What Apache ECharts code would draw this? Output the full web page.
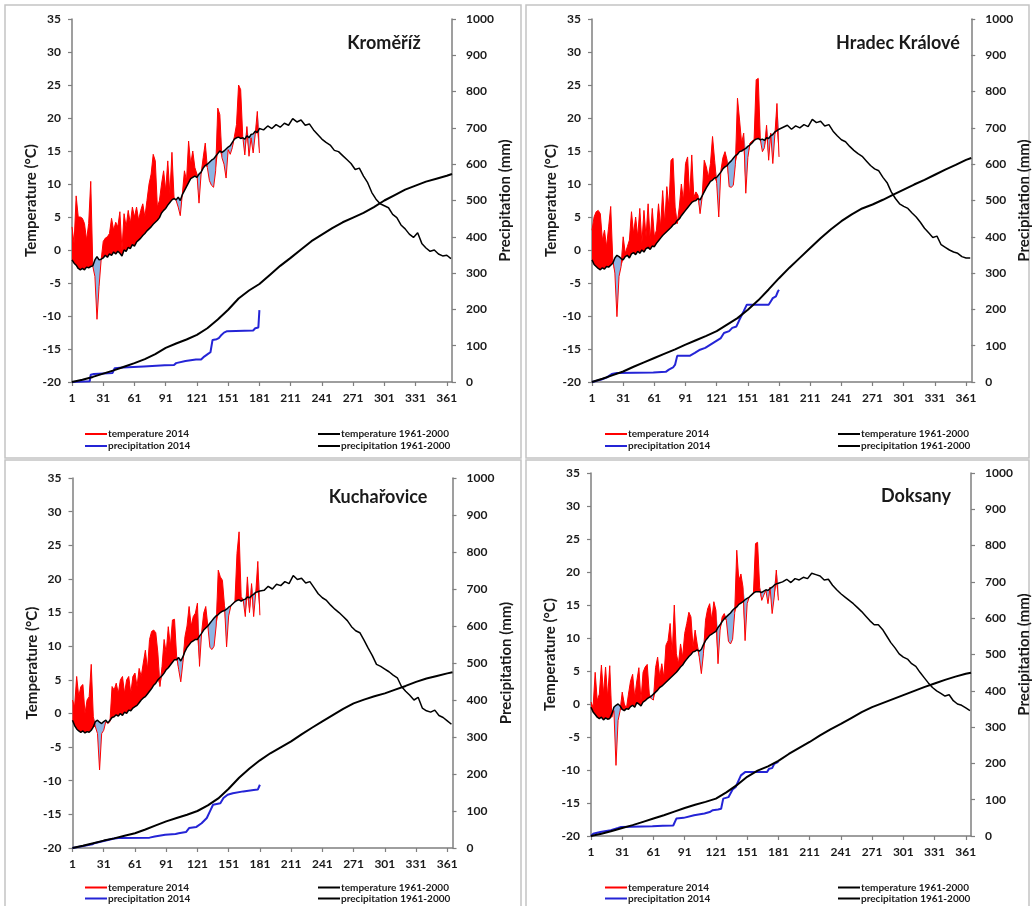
<!DOCTYPE html>
<html>
<head>
<meta charset="utf-8">
<script src="https://cdn.jsdelivr.net/npm/echarts@6.0.0/dist/echarts.min.js"></script>
<style>
html,body{margin:0;padding:0;background:#ffffff;}
#chart{width:1033px;height:906px;}
</style>
</head>
<body>
<div id="chart"></div>
<script>
// ---------------- DATA ----------------
const STATION_NAMES = ["Kroměříž", "Hradec Králové", "Kuchařovice", "Doksany"];
const X_TICKS = [1, 31, 61, 91, 121, 151, 181, 211, 241, 271, 301, 331, 361];

// days of the 2014 daily temperature samples (day of year)
const DAYS_2014 = [1,3,5,7,9,11,13,15,17,19,
  21,23,25,27,29,31,33,35,37,39,
  41,43,45,47,49,51,53,55,57,59,
  61,63,65,67,69,71,73,75,77,79,
  81,83,85,87,89,91,93,95,97,99,
  101,103,105,107,109,111,113,115,117,119,
  121,123,125,127,129,131,133,135,137,139,
  141,143,145,147,149,151,153,155,157,159,
  161,163,165,167,169,171,173,175,177,179,
  181];
// additional days for the 1961-2000 temperature curve (second half of the year)
const DAYS_NORMAL_TAIL = [185,189,193,197,201,205,209,213,217,221,
  225,229,233,237,241,245,249,253,257,261,
  265,269,273,277,281,285,289,293,297,301,
  305,309,313,317,321,325,329,333,337,341,
  345,349,353,357,361,365];
// days of the cumulative 1961-2000 precipitation samples
const DAYS_PRECIP_NORMAL = [1,11,21,31,41,51,61,71,81,91,101,111,121,131,141,151,161,171,181,
  191,201,211,221,231,241,251,261,271,281,291,301,311,321,331,341,351,361,366];

// ---- Kroměříž ----
const KRO_TEMP_2014 = [3.5,1.0,8.2,5.0,5.0,4.8,4.0,1.5,4.0,10.4,
  -2.5,-4.0,-10.5,-5.5,-1.5,1.3,1.8,2.0,2.5,4.8,
  3.0,4.2,3.5,5.8,0.0,5.5,3.5,6.0,4.0,6.5,
  5.0,6.5,4.5,6.0,7.0,5.0,7.5,10.0,11.5,14.5,
  13.5,6.5,7.5,10.0,12.0,9.0,13.5,8.5,14.8,8.0,
  7.5,6.5,5.2,8.5,12.0,10.5,16.5,13.0,15.0,12.5,
  11.5,7.1,11.5,14.0,16.2,12.5,10.5,9.8,9.5,12.0,
  21.5,20.5,14.0,13.0,10.9,15.2,14.5,15.5,17.2,19.0,
  25.0,24.3,17.2,14.4,18.7,14.2,17.0,14.7,17.5,21.0,
  14.7];
const KRO_TEMP_NORMAL = [-1.5,-2.0,-2.3,-2.8,-3.0,-2.8,-3.0,-2.6,-2.7,-2.5,
  -2.4,-1.5,-1.0,-1.5,-1.4,-1.2,-0.8,-1.1,-0.6,-0.8,
  -0.3,-0.6,-0.2,-0.5,-0.9,0.0,-0.2,0.4,0.2,0.8,
  0.6,1.2,1.5,1.8,2.2,2.5,2.9,3.2,3.5,3.9,
  4.2,4.5,4.9,5.6,6.0,6.3,6.8,7.2,7.6,7.8,
  7.6,8.0,7.5,8.4,9.0,9.6,10.2,10.8,11.0,11.2,
  11.0,11.5,11.8,12.4,12.8,13.0,13.3,13.6,13.8,14.2,
  14.6,15.0,14.8,15.0,15.3,15.6,15.8,16.3,16.8,17.0,
  17.1,16.9,17.0,16.8,17.3,17.0,17.5,17.6,18.0,17.8,
  18.4,
  18.2,18.8,18.4,19.0,18.6,19.2,18.9,19.9,19.4,19.7,
  18.9,19.1,18.2,17.5,16.8,16.3,15.9,15.1,14.9,14.3,
  13.7,13.1,12.2,12.4,11.2,10.2,8.7,7.7,7.0,6.7,
  6.4,5.4,4.9,3.8,3.2,2.4,1.9,2.6,1.0,0.3,
  -0.2,0.0,-0.6,-0.9,-0.8,-1.3];
const KRO_PRECIP_NORMAL = [0,6,14,23,32,42,52,63,77,94,106,117,130,148,172,199,230,252,270,
  295,320,342,365,388,406,424,440,453,466,482,500,515,530,541,552,560,568,573];
const KRO_PRECIP_2014 = [[1,0],[18,2],[19,20],[22,22],[40,25],[42,38],[50,40],[70,43],[90,46],[99,47],
  [101,52],[110,58],[115,60],[120,62],[125,62],[128,70],[132,78],[134,82],[136,116],[140,118],
  [142,121],[144,128],[147,136],[150,140],[175,142],[177,148],[180,150],[181,198]];

// ---- Hradec Králové ----
const HK_TEMP_2014 = [3.0,5.0,5.8,6.0,5.5,1.5,3.0,0.5,3.5,6.6,
  -1.5,-3.5,-10.1,-4.0,-2.5,2.0,-0.5,0.5,1.5,5.8,
  2.5,5.0,2.0,6.3,1.0,6.0,2.0,7.0,1.5,6.3,
  2.0,3.0,7.0,3.5,9.0,4.0,9.6,6.5,13.6,13.9,
  6.5,4.0,6.5,10.0,7.5,13.1,14.1,8.0,14.4,8.0,
  8.8,8.3,5.5,8.0,13.6,12.6,11.0,13.1,17.2,13.6,
  10.1,5.0,12.0,14.0,14.9,13.6,9.6,9.5,9.8,13.0,
  23.0,19.7,16.2,17.7,8.6,14.0,16.2,16.5,16.7,25.8,
  26.0,16.7,14.9,15.5,18.9,13.6,17.7,13.1,17.5,22.2,
  14.1];
const HK_TEMP_NORMAL = [-1.5,-2.2,-2.5,-2.8,-3.0,-2.7,-2.9,-2.5,-2.6,-2.3,
  -2.0,-1.2,-0.8,-1.0,-1.3,-1.5,-1.0,-0.8,-1.2,-0.6,
  -0.4,-0.7,-0.2,-0.5,0.0,-0.3,0.2,0.4,0.1,0.6,
  0.5,1.0,1.4,1.8,2.2,2.5,2.8,3.1,3.4,3.8,
  4.0,4.5,4.7,5.2,5.6,6.0,6.4,6.8,7.2,7.4,
  7.5,7.8,7.6,8.2,8.8,9.4,9.9,10.4,10.6,10.9,
  11.0,11.4,11.8,12.3,12.6,12.8,13.2,13.5,13.9,14.3,
  14.5,14.9,15.0,15.2,15.4,15.7,15.9,16.2,16.6,16.8,
  16.9,16.7,16.8,16.6,17.0,16.9,17.3,17.5,17.9,18.1,
  18.3,
  18.6,18.9,18.3,18.8,18.5,19.0,18.7,19.8,19.3,19.5,
  18.8,19.0,18.0,17.3,16.7,16.4,15.7,15.1,14.6,14.2,
  13.5,12.8,12.3,12.0,11.0,10.2,8.8,7.8,7.0,6.6,
  6.3,5.6,5.0,4.2,3.3,2.6,1.9,2.1,0.8,0.4,
  0.0,-0.3,-0.5,-1.0,-1.2,-1.2];
const HK_PRECIP_NORMAL = [0,9,19,29,42,54,66,78,90,103,115,127,140,158,176,199,225,255,286,
  315,342,369,396,421,443,462,478,489,502,516,530,544,557,571,585,598,612,617];
const HK_PRECIP_2014 = [[1,0],[5,3],[10,7],[15,12],[20,22],[25,25],[60,26],[72,28],[75,34],[79,40],
  [81,48],[83,72],[95,72],[100,80],[105,89],[110,94],[115,103],[120,112],[125,121],[128,135],
  [133,140],[136,149],[140,153],[143,172],[147,195],[150,213],[171,213],[173,222],[175,231],[178,236],
  [180,250],[181,254]];

// ---- Kuchařovice ----
const KU_TEMP_2014 = [2.0,1.0,5.5,2.5,4.0,4.3,0.0,2.0,2.5,7.3,
  -0.5,-2.0,-3.0,-8.4,-3.0,-2.5,-1.2,-1.5,-1.2,4.0,
  3.5,4.5,3.0,5.0,5.5,3.0,5.0,5.5,3.0,5.5,
  6.0,4.0,6.7,5.5,7.5,9.4,6.5,11.0,12.2,12.4,
  12.0,9.0,4.0,7.0,11.0,9.0,12.9,10.0,13.9,14.0,
  8.5,6.5,4.7,7.5,11.4,13.0,15.9,13.0,14.4,14.9,
  16.4,7.0,12.0,14.9,15.9,13.0,9.8,9.5,10.0,13.0,
  21.3,20.3,19.8,16.0,9.9,14.5,15.9,16.3,16.6,23.8,
  27.0,17.4,16.8,14.4,20.3,15.0,19.3,14.4,17.9,22.6,
  14.6];
const KU_TEMP_NORMAL = [-1.0,-1.8,-2.3,-2.6,-2.8,-2.6,-2.9,-2.7,-2.8,-2.5,
  -2.0,-1.2,-1.0,-1.3,-1.5,-1.2,-1.0,-1.4,-1.0,-0.6,
  -0.5,-0.2,-0.4,0.0,-0.3,0.2,0.0,0.5,0.4,0.8,
  1.0,1.2,1.6,2.0,2.3,2.5,2.9,3.3,3.7,4.2,
  4.5,5.0,5.3,5.6,6.0,6.5,6.8,7.2,7.6,8.0,
  8.0,8.3,7.8,8.4,9.2,9.8,10.2,10.6,10.8,11.0,
  11.0,11.5,11.9,12.4,12.7,13.0,13.4,13.8,14.2,14.5,
  14.7,15.0,15.2,15.3,15.5,15.8,16.0,16.3,16.6,16.8,
  16.9,16.7,16.9,17.0,17.3,17.2,17.5,17.7,18.0,18.1,
  18.2,
  18.3,18.9,18.5,19.2,19.0,19.6,19.3,20.5,19.9,20.1,
  19.4,19.6,18.7,17.8,17.2,16.8,16.1,15.5,15.0,14.4,
  13.8,12.9,12.3,12.0,10.9,9.7,8.6,7.3,7.0,6.6,
  6.2,5.7,5.3,4.0,3.3,2.7,2.0,2.4,0.8,0.4,
  0.2,0.5,-0.3,-0.6,-1.1,-1.6];
const KU_PRECIP_NORMAL = [0,6,13,20,26,33,40,50,61,72,81,90,100,115,134,160,190,215,237,
  256,272,288,307,325,342,359,376,391,401,410,418,428,438,449,458,465,472,475];
const KU_PRECIP_2014 = [[1,0],[10,5],[20,10],[22,13],[30,18],[40,25],[45,27],[75,28],[80,31],[90,36],
  [100,38],[103,40],[110,43],[113,54],[120,57],[125,67],[130,81],[133,99],[136,117],[143,121],
  [146,135],[150,144],[155,148],[165,153],[175,157],[179,158],[181,171]];

// ---- Doksany ----
const DO_TEMP_2014 = [0.3,-0.5,4.8,0.5,1.5,5.9,1.5,5.6,1.0,5.8,
  -2.0,-1.0,-9.3,-2.5,-1.0,1.8,0.0,-0.7,1.5,3.5,
  4.5,1.0,3.5,5.5,0.5,4.8,5.6,6.0,1.5,0.8,
  0.6,5.5,7.1,4.1,6.1,4.0,8.9,9.6,12.2,7.6,
  15.0,7.6,6.1,9.1,7.1,10.7,12.2,13.9,13.2,8.6,
  11.2,9.1,7.1,4.6,7.6,12.7,14.4,15.2,12.7,15.5,
  14.2,6.1,11.2,13.2,13.7,12.7,9.5,9.1,9.8,13.7,
  23.3,18.7,19.7,17.7,9.6,15.2,16.2,16.5,16.7,24.3,
  24.5,17.7,15.7,16.5,17.2,15.2,17.7,13.7,16.2,20.3,
  15.7];
const DO_TEMP_NORMAL = [-0.5,-1.2,-1.6,-2.0,-2.2,-2.0,-2.4,-2.1,-2.3,-2.2,
  -1.5,-0.5,-0.2,0.0,-0.3,-0.8,-1.0,-0.7,-0.8,-0.4,
  -0.2,-0.5,0.2,0.0,-0.3,0.3,0.5,0.8,1.0,1.2,
  1.5,1.8,2.1,2.5,2.7,3.0,3.3,3.6,3.9,4.2,
  4.5,4.8,5.2,5.6,5.9,6.4,6.8,7.2,7.5,7.9,
  8.0,8.2,8.0,8.3,9.0,9.6,10.0,10.4,10.6,10.8,
  11.0,11.6,12.0,12.5,12.9,13.2,13.5,13.8,14.2,14.5,
  14.7,15.1,15.3,15.5,15.8,16.0,16.2,16.5,16.8,17.0,
  17.0,17.0,16.9,17.1,17.3,17.2,17.5,17.7,18.0,18.2,
  18.3,
  18.5,18.9,18.4,19.0,18.8,19.2,19.0,19.8,19.6,19.4,
  18.8,18.9,18.0,17.3,16.7,16.2,15.7,15.2,14.6,14.0,
  13.3,12.6,12.0,12.0,11.3,10.3,9.3,8.5,7.6,7.1,
  6.8,6.1,5.7,4.8,4.0,3.2,2.5,2.0,1.6,1.2,
  1.4,0.5,0.0,-0.2,-0.6,-1.0];
const DO_PRECIP_NORMAL = [0,6,14,22,30,39,48,57,67,77,86,94,103,120,140,163,180,192,207,
  226,243,259,277,294,309,325,341,355,366,377,388,399,410,420,430,439,447,450];
const DO_PRECIP_2014 = [[1,0],[3,6],[10,11],[20,16],[27,22],[30,25],[60,27],[70,28],[80,29],[83,48],
  [90,50],[100,57],[110,62],[115,66],[118,71],[123,73],[126,75],[128,103],[133,107],[137,128],
  [140,135],[145,167],[149,176],[170,176],[172,185],[175,187],[177,199],[181,204]];

// ---------------- LAYOUT ----------------
const STATIONS = [
  {name: STATION_NAMES[0], t2014: KRO_TEMP_2014, tNorm: KRO_TEMP_NORMAL, pNorm: KRO_PRECIP_NORMAL, p2014: KRO_PRECIP_2014},
  {name: STATION_NAMES[1], t2014: HK_TEMP_2014, tNorm: HK_TEMP_NORMAL, pNorm: HK_PRECIP_NORMAL, p2014: HK_PRECIP_2014},
  {name: STATION_NAMES[2], t2014: KU_TEMP_2014, tNorm: KU_TEMP_NORMAL, pNorm: KU_PRECIP_NORMAL, p2014: KU_PRECIP_2014},
  {name: STATION_NAMES[3], t2014: DO_TEMP_2014, tNorm: DO_TEMP_NORMAL, pNorm: DO_PRECIP_NORMAL, p2014: DO_PRECIP_2014}
];
const GRIDS = [
  {left: 72, top: 19, width: 380, height: 363},
  {left: 592, top: 19, width: 380, height: 363},
  {left: 72.5, top: 478, width: 380, height: 370},
  {left: 591, top: 473, width: 380, height: 363}
];
const LEGEND_POS = [
  {lx: 85, rx: 318, top: 428, lh: 12},
  {lx: 605, rx: 838, top: 428, lh: 12},
  {lx: 85, rx: 318, top: 882, lh: 11},
  {lx: 605, rx: 838, top: 882, lh: 11}
];
const TITLE_POS = [[384, 43], [898, 43], [378, 497], [916, 496]];
const FRAMES = [
  {x: 5, y: 5, width: 516, height: 453},
  {x: 526, y: 5, width: 503, height: 453},
  {x: 5, y: 460, width: 516, height: 452},
  {x: 526, y: 460, width: 503, height: 452}
];

const FONT = 'Lato';
const AXIS_COLOR = '#7f7f7f';
const TEXT_COLOR = '#1a1a1a';
const RED = '#ff0000';
const LIGHT_BLUE = '#8db4e2';
const PRECIP_BLUE = '#2424d6';

const DAYS_NORMAL = DAYS_2014.concat(DAYS_NORMAL_TAIL);
const pair = (xs, ys) => xs.map((x, k) => [x, ys[k]]);
// value first, day second: the stacked dimension must be the temperature (y) one
const pairYX = (xs, ys) => xs.map((x, k) => [ys[k], x]);

const xAxis = [], yAxis = [], series = [], legend = [], graphic = [];

STATIONS.forEach((st, i) => {
  xAxis.push({
    type: 'value', gridIndex: i, min: 1, max: 366,
    axisLine: {show: true, onZero: false, lineStyle: {color: AXIS_COLOR, width: 1.5}},
    axisTick: {show: true, customValues: X_TICKS, length: 4, lineStyle: {color: AXIS_COLOR, width: 1.2}},
    axisLabel: {customValues: X_TICKS, color: TEXT_COLOR, fontFamily: FONT, fontWeight: 'bold', fontSize: 12, margin: 10},
    splitLine: {show: false}
  });
  yAxis.push({
    type: 'value', gridIndex: i, min: -20, max: 35, interval: 5, position: 'left',
    name: 'Temperature (°C)', nameLocation: 'middle', nameGap: 32, nameRotate: 90,
    nameTextStyle: {color: TEXT_COLOR, fontFamily: FONT, fontWeight: 'bold', fontSize: 15},
    axisLine: {show: true, onZero: false, lineStyle: {color: AXIS_COLOR, width: 1.5}},
    axisTick: {show: true, length: 4, lineStyle: {color: AXIS_COLOR, width: 1.2}},
    axisLabel: {color: TEXT_COLOR, fontFamily: FONT, fontWeight: 'bold', fontSize: 12, margin: 11},
    splitLine: {show: false}
  });
  yAxis.push({
    type: 'value', gridIndex: i, min: 0, max: 1000, interval: 100, position: 'right',
    name: 'Precipitation (mm)', nameLocation: 'middle', nameGap: 43, nameRotate: 90,
    nameTextStyle: {color: TEXT_COLOR, fontFamily: FONT, fontWeight: 'bold', fontSize: 15},
    axisLine: {show: true, onZero: false, lineStyle: {color: AXIS_COLOR, width: 1.5}},
    axisTick: {show: true, length: 4, lineStyle: {color: AXIS_COLOR, width: 1.2}},
    axisLabel: {color: TEXT_COLOR, fontFamily: FONT, fontWeight: 'bold', fontSize: 12, margin: 14,
      formatter: (v) => String(v)},
    splitLine: {show: false}
  });

  const nFirst = st.tNorm.slice(0, DAYS_2014.length);
  const base = st.t2014.map((v, k) => Math.min(v, nFirst[k]));
  const above = st.t2014.map((v, k) => Math.max(v - nFirst[k], 0));
  const below = st.t2014.map((v, k) => Math.max(nFirst[k] - v, 0));
  const common = {type: 'line', xAxisIndex: i, yAxisIndex: 2 * i, symbol: 'none', silent: true, animation: false};
  const bandCommon = Object.assign({}, common, {stack: 'band' + i, stackStrategy: 'all',
    encode: {x: 1, y: 0}, lineStyle: {width: 0, opacity: 0}});

  series.push(Object.assign({}, bandCommon, {z: 1, data: pairYX(DAYS_2014, base)}));
  series.push(Object.assign({}, bandCommon, {z: 1, areaStyle: {color: RED, opacity: 1}, data: pairYX(DAYS_2014, above)}));
  series.push(Object.assign({}, bandCommon, {z: 1, areaStyle: {color: LIGHT_BLUE, opacity: 1}, data: pairYX(DAYS_2014, below)}));
  series.push(Object.assign({}, common, {name: 'temperature 2014', z: 3,
    lineStyle: {color: RED, width: 1}, itemStyle: {color: RED}, data: pair(DAYS_2014, st.t2014)}));
  series.push(Object.assign({}, common, {name: 'temperature 1961-2000', z: 4,
    lineStyle: {color: '#000000', width: 1.5}, itemStyle: {color: '#000000'}, data: pair(DAYS_NORMAL, st.tNorm)}));
  series.push(Object.assign({}, common, {name: 'precipitation 2014', yAxisIndex: 2 * i + 1, z: 4,
    lineStyle: {color: PRECIP_BLUE, width: 2}, itemStyle: {color: PRECIP_BLUE}, data: st.p2014}));
  series.push(Object.assign({}, common, {name: 'precipitation 1961-2000', yAxisIndex: 2 * i + 1, z: 4,
    lineStyle: {color: '#000000', width: 2}, itemStyle: {color: '#000000'}, data: pair(DAYS_PRECIP_NORMAL, st.pNorm)}));

  const lp = LEGEND_POS[i];
  const legendCommon = {orient: 'vertical', top: lp.top, padding: 0, itemGap: 0, itemWidth: 22, itemHeight: 2,
    icon: 'rect', selectedMode: false,
    textStyle: {color: TEXT_COLOR, fontFamily: FONT, fontWeight: 'bold', fontSize: 10, lineHeight: lp.lh, padding: [0, 0, 0, -4]}};
  legend.push(Object.assign({}, legendCommon, {left: lp.lx, data: ['temperature 2014', 'precipitation 2014']}));
  legend.push(Object.assign({}, legendCommon, {left: lp.rx, data: ['temperature 1961-2000', 'precipitation 1961-2000']}));

  graphic.push({type: 'rect', shape: FRAMES[i], style: {fill: 'none', stroke: '#c4c4c4', lineWidth: 1.5}, silent: true, z: 0});
  graphic.push({type: 'text', x: TITLE_POS[i][0], y: TITLE_POS[i][1], silent: true,
    style: {text: st.name, fill: TEXT_COLOR, font: 'bold 18px ' + FONT, align: 'center', verticalAlign: 'middle'}});
});

const chart = echarts.init(document.getElementById('chart'), null, {renderer: 'canvas'});
chart.setOption({
  backgroundColor: '#ffffff',
  animation: false,
  textStyle: {fontFamily: FONT},
  grid: GRIDS,
  xAxis: xAxis,
  yAxis: yAxis,
  legend: legend,
  graphic: graphic,
  series: series
});
</script>
</body>
</html>
